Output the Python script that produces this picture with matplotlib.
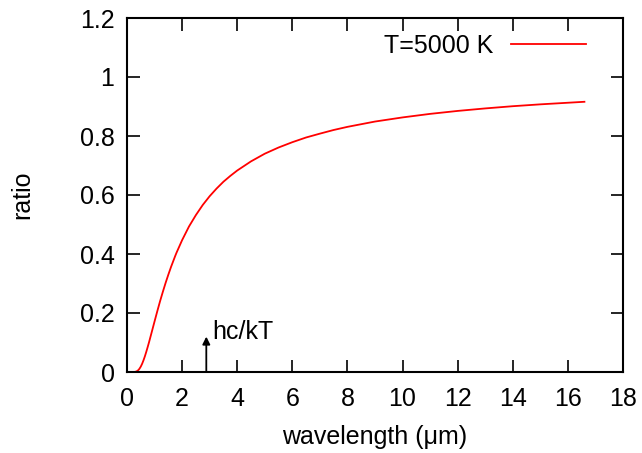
import matplotlib
matplotlib.use('Agg')
import matplotlib.pyplot as plt

plt.rcParams['font.family'] = ['Liberation Sans', 'DejaVu Sans']

# values (ratio vs wavelength, T=5000 K)
wavelength = [0.1, 0.2, 0.25, 0.3, 0.35, 0.4, 0.45, 0.5, 0.55, 0.6, 0.65,
              0.7, 0.75, 0.8, 0.9, 1.0, 1.1, 1.2, 1.3, 1.4, 1.5, 1.6, 1.75,
              1.8, 2.0, 2.25, 2.5, 2.75, 3.0, 3.25, 3.5, 3.75, 4.0, 4.5, 5.0,
              5.5, 6.0, 6.5, 7.0, 7.5, 8.0, 9.0, 10.0, 11.0, 12.0, 13.0,
              14.0, 15.0, 16.6]
ratio = [0.0, 0.00001, 0.0001, 0.00065, 0.0022, 0.0054, 0.0107, 0.0183,
         0.0281, 0.040, 0.0535, 0.0685, 0.0845, 0.101, 0.1362, 0.1715,
         0.2063, 0.240, 0.2716, 0.3018, 0.330, 0.3567, 0.3935, 0.405,
         0.447, 0.4933, 0.532, 0.5664, 0.596, 0.6218, 0.645, 0.6648, 0.683,
         0.714, 0.740, 0.761, 0.779, 0.795, 0.808, 0.8204, 0.831, 0.849,
         0.863, 0.875, 0.885, 0.8935, 0.901, 0.9073, 0.916]
legend_label = 'T=5000 K'
marker_x = 2.878
marker_top = 0.12

fig = plt.figure(figsize=(6.42, 4.53), dpi=100)
ax = fig.add_axes([127/642, 1 - 372/453, (623-127)/642, (372-18)/453])

line, = ax.plot(wavelength, ratio, color='#ff0000', lw=1.3)
ax.set_xlim(0, 18)
ax.set_ylim(0, 1.2)
ax.set_xticks(range(0, 19, 2))
ax.set_yticks([0, 0.2, 0.4, 0.6, 0.8, 1, 1.2])
ax.set_yticklabels(['0', '0.2', '0.4', '0.6', '0.8', '1', '1.2'])
ax.tick_params(direction='in', length=9, width=1.2, top=True, right=True,
               labelsize=18)
ax.tick_params(axis='x', pad=11)
ax.tick_params(axis='y', pad=9)
for s in ax.spines.values():
    s.set_linewidth(1.5)

ax.set_xlabel('wavelength (\u03bcm)', fontsize=18, labelpad=10)
ax.set_ylabel('ratio', fontsize=18, labelpad=33)

ax.annotate('', xy=(marker_x, marker_top), xytext=(marker_x, 0),
            arrowprops=dict(arrowstyle='-|>', color='black', lw=1.3,
                            mutation_scale=11, shrinkA=0, shrinkB=0))
ax.text(marker_x + 0.2, marker_top + 0.015, 'hc/kT', fontsize=18,
        va='center', ha='left')

leg = ax.legend([line], [legend_label], loc='upper right', frameon=False,
                fontsize=18, markerfirst=False, handlelength=3.0,
                borderaxespad=0.6, handletextpad=0.7,
                bbox_to_anchor=(0.975, 1.025))

fig.savefig('out.png', dpi=100)
